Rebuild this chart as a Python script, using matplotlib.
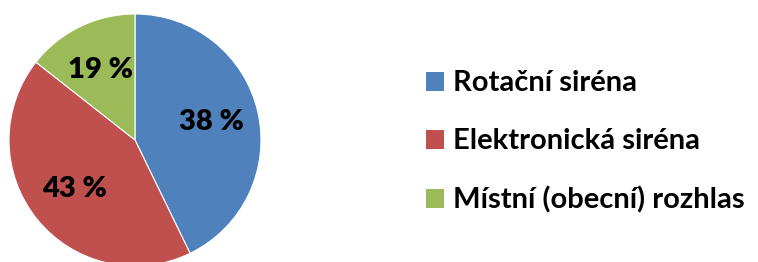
import numpy as np
import matplotlib.pyplot as plt
from matplotlib.patches import Patch

labels = ['Rotační siréna', 'Elektronická siréna', 'Místní (obecní) rozhlas']
# slice sizes as drawn in the picture, printed labels as written on it
shares = [42.8, 42.8, 14.4]
pct_labels = ['38 %', '43 %', '19 %']
colors = ['#4F81BD', '#C0504D', '#9BBB59']

plt.rcParams['font.family'] = ['Lato', 'DejaVu Sans']

fig = plt.figure(figsize=(7.58, 2.62), dpi=100)
ax = fig.add_axes([0, 0, 270/758, 1])

wedges, texts = ax.pie(shares, colors=colors, startangle=90, counterclock=False,
                       center=(135, 122), radius=126,
                       wedgeprops=dict(edgecolor='white', linewidth=0.8))
for w, t in zip(wedges, pct_labels):
    ang = np.deg2rad((w.theta1 + w.theta2) / 2)
    ax.text(135 + 0.62*126*np.cos(ang), 122 + 0.62*126*np.sin(ang), t,
            ha='center', va='center', fontsize=21, fontweight='heavy', color='black')
ax.set_xlim(0, 270)
ax.set_ylim(0, 262)
ax.set_aspect('equal')
ax.axis('off')

handles = [Patch(facecolor=c, edgecolor='none') for c in colors]
fig.legend(handles, labels, loc='center left', bbox_to_anchor=(426/758, 1 - 142/262),
           frameon=False, prop=dict(size=21, weight='bold'), borderpad=0, borderaxespad=0,
           handlelength=0.62, handleheight=0.62, handletextpad=0.3, labelspacing=1.1)

fig.savefig('out.png', dpi=100)
